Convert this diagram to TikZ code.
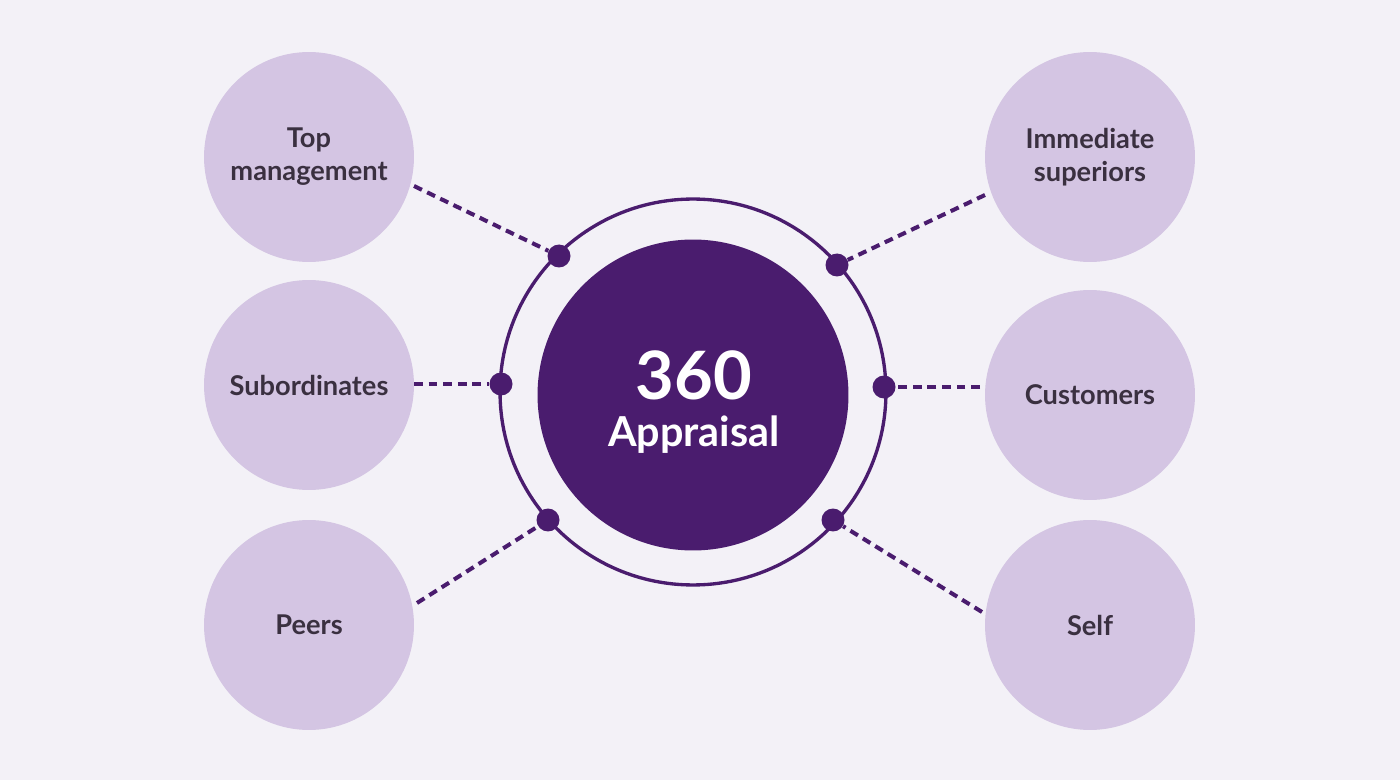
\documentclass[tikz,border=0pt]{standalone}
\usepackage{fontspec}
\setmainfont{Lato}
\definecolor{bg}{HTML}{F3F1F7}
\definecolor{dark}{HTML}{4A1C6E}
\definecolor{light}{HTML}{D4C5E3}
\definecolor{txt}{HTML}{3A3040}
\begin{document}
\begin{tikzpicture}[x=0.02cm,y=-0.02cm,
  outer/.style={circle,fill=light,minimum size=4.2cm,inner sep=0pt,align=center,
    font=\fontsize{15.5}{18.7}\selectfont\bfseries,text=txt},
  dot/.style={circle,fill=dark,minimum size=0.46cm,inner sep=0pt},
  link/.style={draw=dark,line width=2.3pt,dash pattern=on 5pt off 3.3pt}]
\fill[bg] (0,0) rectangle (1400,780);
\useasboundingbox (0,0) rectangle (1400,780);
% centre
\node[circle,fill=dark,minimum size=6.22cm,inner sep=0pt] (c) at (693,395) {};
\node[anchor=base,text=white,font=\fontsize{38}{40}\selectfont\bfseries,inner sep=0pt] (t1) at (694,400) {360};
\node[anchor=base,text=white,font=\fontsize{23.5}{26}\selectfont\bfseries,inner sep=0pt] (t2) at (694,447) {Appraisal};
\node[circle,draw=dark,line width=1.9pt,minimum size=7.72cm,inner sep=0pt] (ring) at (693,392) {};
% outer circles
\node[outer] (tm) at (309,157) {Top\\management};
\node[outer] (sub) at (309,385) {Subordinates};
\node[outer] (peer) at (309,625) {Peers};
\node[outer] (imm) at (1090,157) {Immediate\\superiors};
\node[outer] (cus) at (1090,395) {Customers};
\node[outer] (self) at (1090,625) {Self};
% dots
\node[dot] (d1) at (559,256) {};
\node[dot] (d2) at (501,384) {};
\node[dot] (d3) at (548,520) {};
\node[dot] (d4) at (837,265) {};
\node[dot] (d5) at (884,387) {};
\node[dot] (d6) at (833,520) {};
% links
\coordinate (a1) at (414,186);
\coordinate (a2) at (414,384);
\coordinate (a3) at (417,603);
\coordinate (a4) at (985,195);
\coordinate (a5) at (980,387);
\coordinate (a6) at (982,612);
\draw[link] (a1) -- (d1);
\draw[link] (a2) -- (d2);
\draw[link] (a3) -- (d3);
\draw[link] (a4) -- (d4);
\draw[link] (a5) -- (d5);
\draw[link] (a6) -- (d6);
\end{tikzpicture}
\end{document}
